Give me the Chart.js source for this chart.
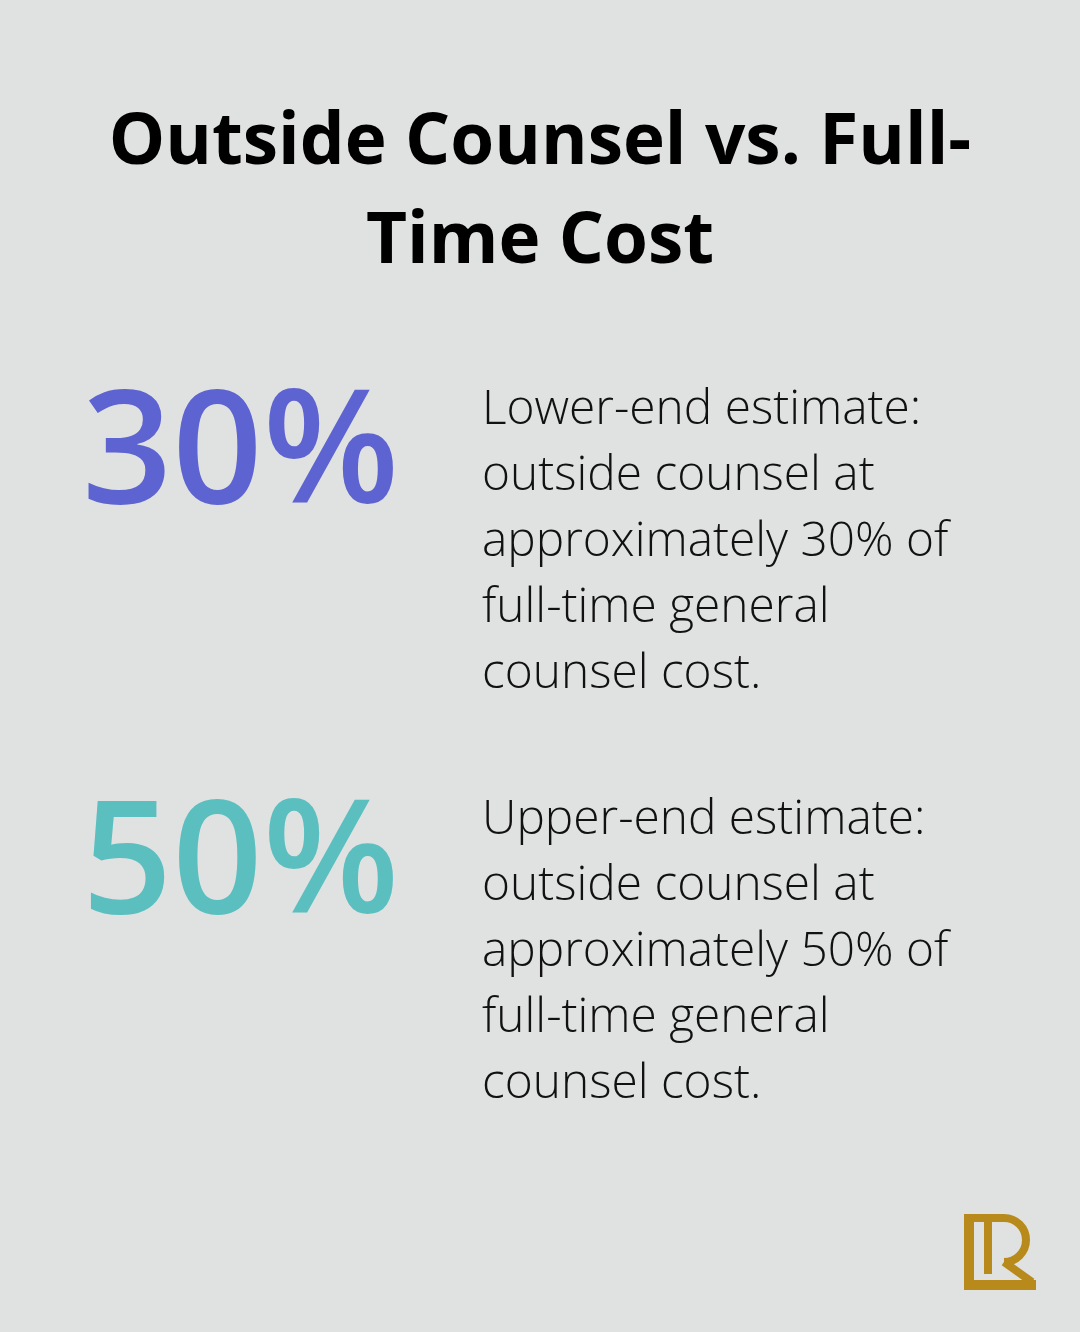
<!DOCTYPE html>
<html>
<head>
<meta charset="utf-8">
<script src="https://cdn.jsdelivr.net/npm/chart.js@4/dist/chart.umd.min.js"></script>
<style>
html,body{margin:0;padding:0;background:#e0e2e1;}
#wrap{width:1080px;height:1332px;position:relative;}
</style>
</head>
<body>
<div id="wrap"><canvas id="chart1"></canvas></div>
<script>
// figures shown on the card
var titulo = ["Outside Counsel vs. Full-", "Time Cost"];
var valores = [30, 50];
var colores = ["#5e63d2", "#5bbfc0"];
var textos = [
	["Lower-end estimate:", "outside counsel at", "approximately 30% of", "full-time general", "counsel cost."],
	["Upper-end estimate:", "outside counsel at", "approximately 50% of", "full-time general", "counsel cost."]
];

var tarjeta = {
	id: 'tarjeta',
	afterDraw: function (chart) {
		var ctx = chart.ctx;
		ctx.save();
		ctx.fillStyle = "#000";
		ctx.textAlign = "center";
		ctx.textBaseline = "alphabetic";
		ctx.font = "bold 71px 'Open Sans'";
		ctx.fillText(titulo[0], 540, 164);
		ctx.fillText(titulo[1], 540, 263);

		for (var i = 0; i < valores.length; i++) {
			var top = 503 + i * 410;
			ctx.textAlign = "left";
			ctx.fillStyle = colores[i];
			ctx.font = "600 158px 'Open Sans'";
			ctx.fillText(valores[i] + "%", 82, top);
			ctx.fillStyle = "#111";
			ctx.font = "300 47.8px 'Open Sans'";
			for (var j = 0; j < textos[i].length; j++) {
				ctx.fillText(textos[i][j], 482, top - 79 + j * 66);
			}
		}

		// logo
		ctx.fillStyle = "#b88a1c";
		ctx.fillRect(964, 1214, 10, 76);
		ctx.fillRect(964, 1280, 72, 10);
		ctx.fillRect(964, 1214, 40, 8);
		ctx.lineWidth = 8;
		ctx.strokeStyle = "#b88a1c";
		ctx.beginPath();
		ctx.arc(1004, 1240, 22, -Math.PI / 2, Math.PI / 2);
		ctx.stroke();
		ctx.fillRect(984, 1214, 8, 60);
		ctx.beginPath();
		ctx.moveTo(1004, 1262);
		ctx.lineTo(1032, 1282);
		ctx.stroke();
		ctx.restore();
	}
};

var canvas = document.getElementById('chart1').getContext('2d');
window.card = new Chart(canvas, {
	type: 'bar',
	data: { labels: ["30%", "50%"], datasets: [{ data: valores, backgroundColor: 'rgba(0,0,0,0)' }] },
	options: {
		responsive: true,
		maintainAspectRatio: false,
		animation: false,
		events: [],
		plugins: { legend: { display: false }, tooltip: { enabled: false } },
		scales: { x: { display: false }, y: { display: false, min: 0, max: 100 } }
	},
	plugins: [tarjeta]
});
</script>
</body>
</html>
